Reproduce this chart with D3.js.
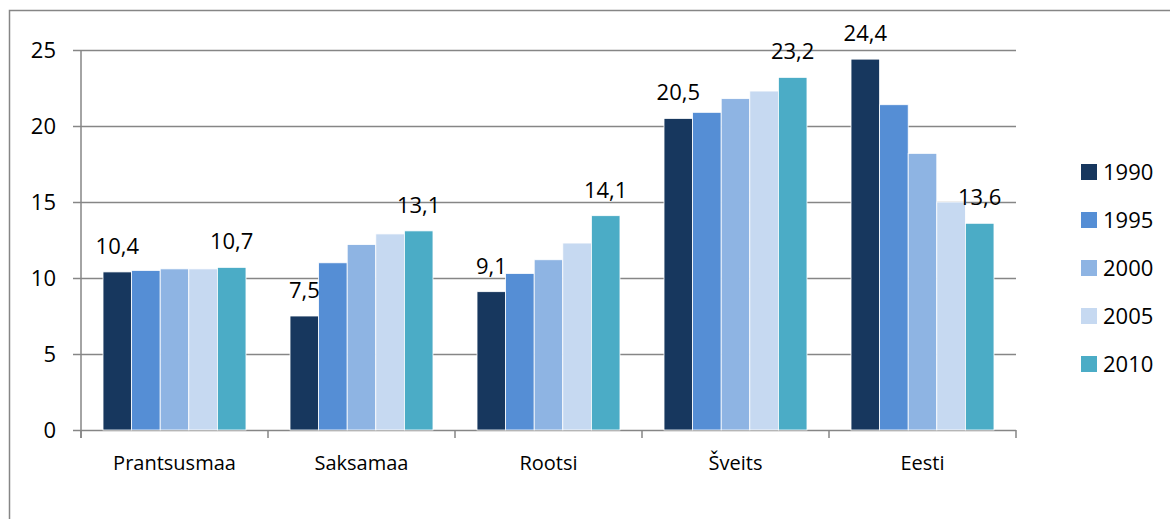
<!DOCTYPE html>
<html>
<head>
<meta charset="UTF-8">
<script src="https://d3js.org/d3.v7.min.js"></script>
<style>
body { margin: 0; background: #fff; }
text { font-family: "Open Sans", Lato, sans-serif; fill: #000; }
</style>
</head>
<body>
<div id="chart"></div>
<script>
// data
const countries = ["Prantsusmaa", "Saksamaa", "Rootsi", "Šveits", "Eesti"];
const years = ["1990", "1995", "2000", "2005", "2010"];
const v1990 = [10.4, 7.5, 9.1, 20.5, 24.4];
const v1995 = [10.5, 11.0, 10.3, 20.9, 21.4];
const v2000 = [10.6, 12.2, 11.2, 21.8, 18.2];
const v2005 = [10.6, 12.9, 12.3, 22.3, 15.0];
const v2010 = [10.7, 13.1, 14.1, 23.2, 13.6];
const yTicks = [0, 5, 10, 15, 20, 25];
const colors = ["#17375E", "#558ED5", "#8EB4E3", "#C6D9F1", "#4BACC6"];

const series = [v1990, v1995, v2000, v2005, v2010];
const W = 1170, H = 519;
const plotL = 81, plotR = 1016, plotT = 50, plotB = 430;

const svg = d3.select("#chart").append("svg")
  .attr("width", W).attr("height", H);

// outer frame (only top/left visible)
svg.append("rect")
  .attr("x", 9.5).attr("y", 10.5)
  .attr("width", 1300).attr("height", 700)
  .attr("fill", "none").attr("stroke", "#868686").attr("stroke-width", 1.5);

const x0 = d3.scaleBand().domain(countries).range([plotL, plotR]).paddingInner(0).paddingOuter(0);
const x1 = d3.scaleBand().domain(years).range([0, x0.bandwidth()]).paddingInner(0).paddingOuter(0.77);
const y = d3.scaleLinear().domain([0, 25]).range([plotB, plotT]);

// gridlines
svg.append("g").selectAll("line").data(yTicks).join("line")
  .attr("x1", plotL - 8).attr("x2", plotR)
  .attr("y1", d => y(d) + 0.5).attr("y2", d => y(d) + 0.5)
  .attr("stroke", "#868686").attr("stroke-width", 1.5);

// y axis line
svg.append("line").attr("x1", plotL).attr("x2", plotL)
  .attr("y1", plotT).attr("y2", plotB + 8)
  .attr("stroke", "#868686").attr("stroke-width", 1.5);

// y tick labels
svg.append("g").selectAll("text").data(yTicks).join("text")
  .attr("x", 56).attr("y", d => y(d)).attr("dy", "0.36em")
  .attr("text-anchor", "end").attr("font-size", 22)
  .text(d => d);

// category ticks
const bounds = countries.map(c => x0(c)).concat([plotR]);
svg.append("g").selectAll("line").data(bounds).join("line")
  .attr("x1", d => d).attr("x2", d => d)
  .attr("y1", plotB).attr("y2", plotB + 8)
  .attr("stroke", "#868686").attr("stroke-width", 1.5);

// bars
const groups = svg.append("g").selectAll("g").data(countries).join("g")
  .attr("transform", c => `translate(${x0(c)},0)`);

groups.selectAll("rect")
  .data((c, i) => years.map((yr, j) => ({ yr, j, v: series[j][i] })))
  .join("rect")
  .attr("x", d => x1(d.yr))
  .attr("y", d => y(d.v))
  .attr("width", x1.bandwidth())
  .attr("height", d => y(0) - y(d.v))
  .attr("fill", d => colors[d.j])
  .attr("stroke", "#fff").attr("stroke-width", 0.8);

// data labels on first and last series
groups.selectAll("text.lbl")
  .data((c, i) => [0, 4].map(j => ({ yr: years[j], v: series[j][i] })))
  .join("text")
  .attr("class", "lbl")
  .attr("x", d => x1(d.yr) + x1.bandwidth() / 2)
  .attr("y", d => y(d.v) - 18)
  .attr("text-anchor", "middle").attr("font-size", 22)
  .text(d => d3.format(".1f")(d.v).replace(".", ","));

// category labels
svg.append("g").selectAll("text").data(countries).join("text")
  .attr("x", c => x0(c) + x0.bandwidth() / 2)
  .attr("y", 463).attr("dy", "0.36em")
  .attr("text-anchor", "middle").attr("font-size", 20)
  .text(c => c);

// legend
const lg = svg.append("g").selectAll("g").data(years).join("g")
  .attr("transform", (d, i) => `translate(1081,${172 + i * 48})`);
lg.append("rect").attr("x", 0).attr("y", -8).attr("width", 16).attr("height", 16)
  .attr("fill", (d, i) => colors[i]);
lg.append("text").attr("x", 22).attr("y", 0).attr("dy", "0.36em")
  .attr("font-size", 22).text(d => d);
</script>
</body>
</html>
